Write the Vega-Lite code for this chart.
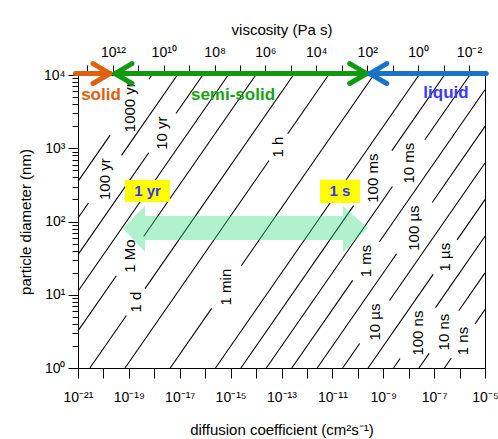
{
  "$schema": "https://vega.github.io/schema/vega-lite/v6.json",
  "width": 407,
  "height": 293,
  "autosize": {"type": "none"},
  "padding": {"left": 78, "top": 75, "right": 13, "bottom": 71},
  "config": {
    "view": {"stroke": "black", "strokeWidth": 1},
    "axis": {"domainColor": "black", "tickColor": "black", "labelColor": "black", "titleColor": "black", "labelFont": "Liberation Sans", "titleFont": "Liberation Sans", "labelFontSize": 14, "titleFontSize": 15, "titleFontWeight": "normal", "grid": false, "domainWidth": 1, "tickWidth": 1, "labelOverlap": false, "labelFlush": false},
    "text": {"font": "Liberation Sans"}
  },
  "datasets": {
    "lines": [
      {"line": "1000 yr", "part": "a", "log10_D": -21, "log10_d": 2.548},
      {"line": "1000 yr", "part": "a", "log10_D": -19.737, "log10_d": 3.179},
      {"line": "1000 yr", "part": "b", "log10_D": -18.209, "log10_d": 3.943},
      {"line": "1000 yr", "part": "b", "log10_D": -18.095, "log10_d": 4},
      {"line": "100 yr", "part": "a", "log10_D": -21, "log10_d": 2.048},
      {"line": "100 yr", "part": "a", "log10_D": -20.589, "log10_d": 2.253},
      {"line": "100 yr", "part": "b", "log10_D": -19.289, "log10_d": 2.903},
      {"line": "100 yr", "part": "b", "log10_D": -17.095, "log10_d": 4},
      {"line": "10 yr", "part": "a", "log10_D": -21, "log10_d": 1.548},
      {"line": "10 yr", "part": "a", "log10_D": -18.219, "log10_d": 2.938},
      {"line": "10 yr", "part": "b", "log10_D": -17.147, "log10_d": 3.474},
      {"line": "10 yr", "part": "b", "log10_D": -16.095, "log10_d": 4},
      {"line": "1 yr", "part": "a", "log10_D": -21, "log10_d": 1.048},
      {"line": "1 yr", "part": "a", "log10_D": -15.095, "log10_d": 4},
      {"line": "1 Mo", "part": "a", "log10_D": -21, "log10_d": 0.506},
      {"line": "1 Mo", "part": "a", "log10_D": -19.492, "log10_d": 1.26},
      {"line": "1 Mo", "part": "b", "log10_D": -18.42, "log10_d": 1.796},
      {"line": "1 Mo", "part": "b", "log10_D": -14.012, "log10_d": 4},
      {"line": "1 d", "part": "a", "log10_D": -20.533, "log10_d": 0},
      {"line": "1 d", "part": "a", "log10_D": -19.099, "log10_d": 0.717},
      {"line": "1 d", "part": "b", "log10_D": -18.367, "log10_d": 1.083},
      {"line": "1 d", "part": "b", "log10_D": -12.533, "log10_d": 4},
      {"line": "1 h", "part": "a", "log10_D": -19.152, "log10_d": 0},
      {"line": "1 h", "part": "a", "log10_D": -13.488, "log10_d": 2.832},
      {"line": "1 h", "part": "b", "log10_D": -12.756, "log10_d": 3.198},
      {"line": "1 h", "part": "b", "log10_D": -11.152, "log10_d": 4},
      {"line": "1 min", "part": "a", "log10_D": -17.374, "log10_d": 0},
      {"line": "1 min", "part": "a", "log10_D": -15.746, "log10_d": 0.814},
      {"line": "1 min", "part": "b", "log10_D": -14.582, "log10_d": 1.396},
      {"line": "1 min", "part": "b", "log10_D": -9.374, "log10_d": 4},
      {"line": "1 s", "part": "a", "log10_D": -15.596, "log10_d": 0},
      {"line": "1 s", "part": "a", "log10_D": -7.596, "log10_d": 4},
      {"line": "100 ms", "part": "a", "log10_D": -14.596, "log10_d": 0},
      {"line": "100 ms", "part": "a", "log10_D": -10.164, "log10_d": 2.216},
      {"line": "100 ms", "part": "b", "log10_D": -8.66, "log10_d": 2.968},
      {"line": "100 ms", "part": "b", "log10_D": -6.596, "log10_d": 4},
      {"line": "10 ms", "part": "a", "log10_D": -13.596, "log10_d": 0},
      {"line": "10 ms", "part": "a", "log10_D": -8.64, "log10_d": 2.478},
      {"line": "10 ms", "part": "b", "log10_D": -7.364, "log10_d": 3.116},
      {"line": "10 ms", "part": "b", "log10_D": -5.596, "log10_d": 4},
      {"line": "1 ms", "part": "a", "log10_D": -12.596, "log10_d": 0},
      {"line": "1 ms", "part": "a", "log10_D": -10.202, "log10_d": 1.197},
      {"line": "1 ms", "part": "b", "log10_D": -9.15, "log10_d": 1.723},
      {"line": "1 ms", "part": "b", "log10_D": -5, "log10_d": 3.798},
      {"line": "100 µs", "part": "a", "log10_D": -11.596, "log10_d": 0},
      {"line": "100 µs", "part": "a", "log10_D": -8.476, "log10_d": 1.56},
      {"line": "100 µs", "part": "b", "log10_D": -7.076, "log10_d": 2.26},
      {"line": "100 µs", "part": "b", "log10_D": -5, "log10_d": 3.298},
      {"line": "10 µs", "part": "a", "log10_D": -10.596, "log10_d": 0},
      {"line": "10 µs", "part": "a", "log10_D": -9.926, "log10_d": 0.335},
      {"line": "10 µs", "part": "b", "log10_D": -8.754, "log10_d": 0.921},
      {"line": "10 µs", "part": "b", "log10_D": -5, "log10_d": 2.798},
      {"line": "1 µs", "part": "a", "log10_D": -9.596, "log10_d": 0},
      {"line": "1 µs", "part": "a", "log10_D": -7.04, "log10_d": 1.278},
      {"line": "1 µs", "part": "b", "log10_D": -6.096, "log10_d": 1.75},
      {"line": "1 µs", "part": "b", "log10_D": -5, "log10_d": 2.298},
      {"line": "100 ns", "part": "a", "log10_D": -8.596, "log10_d": 0},
      {"line": "100 ns", "part": "a", "log10_D": -8.338, "log10_d": 0.129},
      {"line": "100 ns", "part": "b", "log10_D": -6.946, "log10_d": 0.825},
      {"line": "100 ns", "part": "b", "log10_D": -5, "log10_d": 1.798},
      {"line": "10 ns", "part": "a", "log10_D": -7.596, "log10_d": 0},
      {"line": "10 ns", "part": "a", "log10_D": -7.196, "log10_d": 0.2},
      {"line": "10 ns", "part": "b", "log10_D": -6.032, "log10_d": 0.782},
      {"line": "10 ns", "part": "b", "log10_D": -5, "log10_d": 1.298},
      {"line": "1 ns", "part": "a", "log10_D": -6.596, "log10_d": 0},
      {"line": "1 ns", "part": "a", "log10_D": -6.33, "log10_d": 0.133},
      {"line": "1 ns", "part": "b", "log10_D": -5.39, "log10_d": 0.603},
      {"line": "1 ns", "part": "b", "log10_D": -5, "log10_d": 0.798}
    ],
    "lineLabels": [
      {"label": "1000 yr", "log10_D": -18.973, "log10_d": 3.561},
      {"label": "100 yr", "log10_D": -19.939, "log10_d": 2.578},
      {"label": "10 yr", "log10_D": -17.683, "log10_d": 3.206},
      {"label": "1 Mo", "log10_D": -18.956, "log10_d": 1.528},
      {"label": "1 d", "log10_D": -18.733, "log10_d": 0.9},
      {"label": "1 h", "log10_D": -13.122, "log10_d": 3.015},
      {"label": "1 min", "log10_D": -15.164, "log10_d": 1.105},
      {"label": "100 ms", "log10_D": -9.412, "log10_d": 2.592},
      {"label": "10 ms", "log10_D": -8.002, "log10_d": 2.797},
      {"label": "1 ms", "log10_D": -9.676, "log10_d": 1.46},
      {"label": "100 µs", "log10_D": -7.776, "log10_d": 1.91},
      {"label": "10 µs", "log10_D": -9.34, "log10_d": 0.628},
      {"label": "1 µs", "log10_D": -6.568, "log10_d": 1.514},
      {"label": "100 ns", "log10_D": -7.642, "log10_d": 0.477},
      {"label": "10 ns", "log10_D": -6.614, "log10_d": 0.491},
      {"label": "1 ns", "log10_D": -5.86, "log10_d": 0.368}
    ],
    "rangeArrow": [
      {"log10_D": -19.231, "top": 1.91, "bottom": 1.91},
      {"log10_D": -18.366, "top": 2.21, "bottom": 1.583},
      {"log10_D": -18.365, "top": 2.074, "bottom": 1.746},
      {"log10_D": -10.584, "top": 2.074, "bottom": 1.746},
      {"log10_D": -10.583, "top": 2.21, "bottom": 1.583},
      {"log10_D": -9.601, "top": 1.91, "bottom": 1.91}
    ],
    "boxes": [
      {"label": "1 yr", "D_lo": -19.153, "D_hi": -17.384, "d_lo": 2.265, "d_hi": 2.565, "D_mid": -18.268, "d_mid": 2.415},
      {"label": "1 s", "D_lo": -11.487, "D_hi": -9.915, "d_lo": 2.253, "d_hi": 2.57, "D_mid": -10.701, "d_mid": 2.412}
    ],
    "phaseArrows": [
      {"piece": "o1", "phase": "solid", "log10_D": -21.1, "log10_d": 4.02},
      {"piece": "o1", "phase": "solid", "log10_D": -19.742, "log10_d": 4.02},
      {"piece": "o2", "phase": "solid", "log10_D": -19.742, "log10_d": 4.02},
      {"piece": "o2", "phase": "solid", "log10_D": -20.41, "log10_d": 4.156},
      {"piece": "o3", "phase": "solid", "log10_D": -19.742, "log10_d": 4.02},
      {"piece": "o3", "phase": "solid", "log10_D": -20.41, "log10_d": 3.884},
      {"piece": "g1", "phase": "semi-solid", "log10_D": -19.546, "log10_d": 4.02},
      {"piece": "g1", "phase": "semi-solid", "log10_D": -9.65, "log10_d": 4.02},
      {"piece": "g2", "phase": "semi-solid", "log10_D": -19.546, "log10_d": 4.02},
      {"piece": "g2", "phase": "semi-solid", "log10_D": -18.878, "log10_d": 4.156},
      {"piece": "g3", "phase": "semi-solid", "log10_D": -19.546, "log10_d": 4.02},
      {"piece": "g3", "phase": "semi-solid", "log10_D": -18.878, "log10_d": 3.884},
      {"piece": "g4", "phase": "semi-solid", "log10_D": -9.65, "log10_d": 4.02},
      {"piece": "g4", "phase": "semi-solid", "log10_D": -10.318, "log10_d": 4.156},
      {"piece": "g5", "phase": "semi-solid", "log10_D": -9.65, "log10_d": 4.02},
      {"piece": "g5", "phase": "semi-solid", "log10_D": -10.318, "log10_d": 3.884},
      {"piece": "b1", "phase": "liquid", "log10_D": -9.53, "log10_d": 4.02},
      {"piece": "b1", "phase": "liquid", "log10_D": -4.95, "log10_d": 4.02},
      {"piece": "b2", "phase": "liquid", "log10_D": -9.53, "log10_d": 4.02},
      {"piece": "b2", "phase": "liquid", "log10_D": -8.862, "log10_d": 4.156},
      {"piece": "b3", "phase": "liquid", "log10_D": -9.53, "log10_d": 4.02},
      {"piece": "b3", "phase": "liquid", "log10_D": -8.862, "log10_d": 3.884}
    ],
    "phaseLabels": [
      {"phase": "solid", "log10_D": -20.096, "log10_d": 3.724},
      {"phase": "semi-solid", "log10_D": -14.907, "log10_d": 3.724},
      {"phase": "liquid", "log10_D": -6.535, "log10_d": 3.752}
    ]
  },
  "resolve": {"axis": {"x": "independent", "y": "independent"}, "scale": {"color": "independent"}},
  "layer": [
    {
      "data": {"name": "lines"},
      "mark": {"type": "line", "color": "black", "strokeWidth": 1.1},
      "encoding": {
        "x": {"field": "log10_D", "type": "quantitative", "scale": {"domain": [-21, -5], "nice": false, "zero": false},
          "axis": {"orient": "bottom", "title": "diffusion coefficient (cm²s⁻¹)", "values": [-21,-20,-19,-18,-17,-16,-15,-14,-13,-12,-11,-10,-9,-8,-7,-6,-5], "tickSize": 10, "labelPadding": 12, "titlePadding": 18,
            "labelExpr": "datum.value % 2 != 0 ? '10' + replace(replace(replace(replace(replace(replace(replace(replace(replace(replace(replace(toString(datum.value),'-','⁻'),regexp('0','g'),'⁰'),regexp('1','g'),'¹'),regexp('2','g'),'²'),regexp('3','g'),'³'),regexp('4','g'),'⁴'),regexp('5','g'),'⁵'),regexp('6','g'),'⁶'),regexp('7','g'),'⁷'),regexp('8','g'),'⁸'),regexp('9','g'),'⁹') : ''"}},
        "y": {"field": "log10_d", "type": "quantitative", "scale": {"domain": [0, 4], "nice": false, "zero": false},
          "axis": {"orient": "left", "title": "particle diameter (nm)", "titlePadding": 10, "labelPadding": 3,
            "values": [0,0.30103,0.47712,0.60206,0.69897,0.77815,0.8451,0.90309,0.95424,1,1.30103,1.47712,1.60206,1.69897,1.77815,1.8451,1.90309,1.95424,2,2.30103,2.47712,2.60206,2.69897,2.77815,2.8451,2.90309,2.95424,3,3.30103,3.47712,3.60206,3.69897,3.77815,3.8451,3.90309,3.95424,4],
            "tickSize": {"condition": {"test": "abs(datum.value - round(datum.value)) < 0.001", "value": 10}, "value": 6},
            "labelExpr": "abs(datum.value - round(datum.value)) < 0.001 ? '10' + replace(replace(replace(replace(replace(replace(replace(replace(replace(replace(replace(toString(round(datum.value)),'-','⁻'),regexp('0','g'),'⁰'),regexp('1','g'),'¹'),regexp('2','g'),'²'),regexp('3','g'),'³'),regexp('4','g'),'⁴'),regexp('5','g'),'⁵'),regexp('6','g'),'⁶'),regexp('7','g'),'⁷'),regexp('8','g'),'⁸'),regexp('9','g'),'⁹') : ''"}},
        "detail": [{"field": "line"}, {"field": "part"}]
      }
    },
    {
      "data": {"name": "lineLabels"},
      "mark": {"type": "text", "angle": 270, "align": "center", "baseline": "middle", "fontSize": 15, "color": "black"},
      "encoding": {
        "x": {"field": "log10_D", "type": "quantitative", "scale": {"domain": [-21, -5], "nice": false, "zero": false}, "axis": null},
        "y": {"field": "log10_d", "type": "quantitative", "scale": {"domain": [0, 4], "nice": false, "zero": false}, "axis": null},
        "text": {"field": "label"}
      }
    },
    {
      "data": {"name": "rangeArrow"},
      "mark": {"type": "area", "orient": "vertical", "color": "#3ddc84", "opacity": 0.4},
      "encoding": {
        "x": {"field": "log10_D", "type": "quantitative", "scale": {"domain": [-21, -5], "nice": false, "zero": false}, "axis": null},
        "y": {"field": "top", "type": "quantitative", "scale": {"domain": [0, 4], "nice": false, "zero": false}, "axis": null},
        "y2": {"field": "bottom"}
      }
    },
    {
      "data": {"name": "boxes"},
      "mark": {"type": "rect", "color": "#ffff00"},
      "encoding": {
        "x": {"field": "D_lo", "type": "quantitative", "scale": {"domain": [-21, -5], "nice": false, "zero": false}, "axis": null},
        "x2": {"field": "D_hi"},
        "y": {"field": "d_lo", "type": "quantitative", "scale": {"domain": [0, 4], "nice": false, "zero": false}, "axis": null},
        "y2": {"field": "d_hi"}
      }
    },
    {
      "data": {"name": "boxes"},
      "mark": {"type": "text", "align": "center", "baseline": "middle", "fontSize": 15, "fontWeight": "bold", "color": "#3535f2"},
      "encoding": {
        "x": {"field": "D_mid", "type": "quantitative", "scale": {"domain": [-21, -5], "nice": false, "zero": false}, "axis": null},
        "y": {"field": "d_mid", "type": "quantitative", "scale": {"domain": [0, 4], "nice": false, "zero": false}, "axis": null},
        "text": {"field": "label"}
      }
    },
    {
      "data": {"name": "phaseArrows"},
      "mark": {"type": "line", "strokeWidth": 5, "strokeCap": "round", "clip": false},
      "encoding": {
        "x": {"field": "log10_D", "type": "quantitative", "scale": {"domain": [-21, -5], "nice": false, "zero": false},
          "axis": {"orient": "top", "title": "viscosity (Pa s)", "tickSize": 10, "labelPadding": 6, "titlePadding": 8,
            "values": [-20.63,-19.63,-18.63,-17.63,-16.63,-15.63,-14.63,-13.63,-12.63,-11.63,-10.63,-9.63,-8.63,-7.63,-6.63,-5.63],
            "labelExpr": "round(-7.63 - datum.value) % 2 == 0 ? '10' + replace(replace(replace(replace(replace(replace(replace(replace(replace(replace(replace(toString(round(-7.63 - datum.value)),'-','⁻'),regexp('0','g'),'⁰'),regexp('1','g'),'¹'),regexp('2','g'),'²'),regexp('3','g'),'³'),regexp('4','g'),'⁴'),regexp('5','g'),'⁵'),regexp('6','g'),'⁶'),regexp('7','g'),'⁷'),regexp('8','g'),'⁸'),regexp('9','g'),'⁹') : ''"}},
        "y": {"field": "log10_d", "type": "quantitative", "scale": {"domain": [0, 4], "nice": false, "zero": false}, "axis": null},
        "color": {"field": "phase", "type": "nominal", "scale": {"domain": ["solid", "semi-solid", "liquid"], "range": ["#e0600f", "#109a10", "#1a73c8"]}, "legend": null},
        "detail": {"field": "piece"}
      }
    },
    {
      "data": {"name": "phaseLabels"},
      "mark": {"type": "text", "align": "center", "baseline": "middle", "fontSize": 17, "fontWeight": "bold"},
      "encoding": {
        "x": {"field": "log10_D", "type": "quantitative", "scale": {"domain": [-21, -5], "nice": false, "zero": false}, "axis": null},
        "y": {"field": "log10_d", "type": "quantitative", "scale": {"domain": [0, 4], "nice": false, "zero": false}, "axis": null},
        "text": {"field": "phase"},
        "color": {"field": "phase", "type": "nominal", "scale": {"domain": ["solid", "semi-solid", "liquid"], "range": ["#e0600f", "#17a317", "#3b3bf5"]}, "legend": null}
      }
    }
  ]
}
